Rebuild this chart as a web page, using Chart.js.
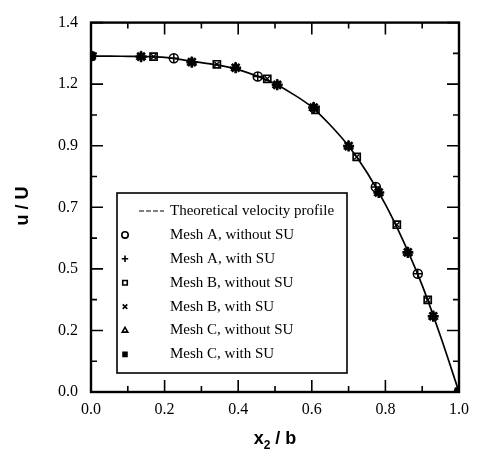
<!DOCTYPE html>
<html>
<head>
<meta charset="utf-8">
<script src="https://cdn.jsdelivr.net/npm/chart.js@4.4.0/dist/chart.umd.min.js"></script>
<style>
  html, body { margin: 0; padding: 0; background: #fff; }
  #wrap { width: 477px; height: 451px; }
</style>
</head>
<body>
<div id="wrap"><canvas id="profile"></canvas></div>
<script>
// theoretical velocity profile u/U across the channel
const theoryX = [0, 0.05, 0.1, 0.15, 0.2, 0.25, 0.3, 0.35, 0.4, 0.45, 0.5, 0.55, 0.6, 0.65, 0.7, 0.75, 0.8, 0.85, 0.9, 0.95, 1.0];
const theoryY = [1.273, 1.273, 1.272, 1.271, 1.268, 1.259, 1.248, 1.238, 1.222, 1.198, 1.168, 1.128, 1.080, 1.012, 0.932, 0.832, 0.711, 0.568, 0.404, 0.210, 0.0];

// computed nodal values, one pair of arrays per mesh
const meshAX = [0, 0.225, 0.453, 0.774, 0.888, 1.0];
const meshAY = [1.273, 1.265, 1.196, 0.777, 0.448, 0.0];
const meshBX = [0, 0.170, 0.342, 0.479, 0.610, 0.722, 0.831, 0.915, 1.0];
const meshBY = [1.273, 1.271, 1.242, 1.187, 1.069, 0.891, 0.634, 0.349, 0.0];
const meshCX = [0, 0.136, 0.274, 0.393, 0.506, 0.605, 0.700, 0.782, 0.861, 0.930, 1.0];
const meshCY = [1.273, 1.271, 1.250, 1.229, 1.164, 1.078, 0.932, 0.756, 0.529, 0.287, 0.0];

const xTickLabels = ['0.0', '0.2', '0.4', '0.6', '0.8', '1.0'];
const yTickValues = [0, 0.2333, 0.4667, 0.7, 0.9333, 1.1667, 1.4];
const yTickLabels = ['0.0', '0.2', '0.5', '0.7', '0.9', '1.2', '1.4'];

const serif = '"Liberation Serif", "DejaVu Serif", serif';
const sans = '"Liberation Sans", Arial, sans-serif';
const pts = (xs, ys) => xs.map((v, i) => ({ x: v, y: ys[i] }));

function meshSet(label, xs, ys, style, radius, width) {
  return {
    label: label,
    data: pts(xs, ys),
    showLine: false,
    pointStyle: style,
    pointRadius: radius,
    pointBorderWidth: width,
    pointBorderColor: '#000',
    pointBackgroundColor: 'rgba(0,0,0,0)',
    clip: 0
  };
}

// inward ticks on all four sides, frame, legend box and axis titles
const framePlugin = {
  id: 'framePlugin',
  afterDraw(chart) {
    const { ctx, chartArea: a, scales: { x, y } } = chart;
    ctx.save();
    ctx.strokeStyle = '#000';
    ctx.fillStyle = '#000';

    const xs = x.ticks.map(t => t.value);
    const ys = y.ticks.map(t => t.value);
    const mid = arr => arr.slice(1).map((v, i) => (v + arr[i]) / 2);

    ctx.lineWidth = 1.6;
    ctx.beginPath();
    const tickX = (vals, len) => vals.forEach(v => {
      const p = x.getPixelForValue(v);
      ctx.moveTo(p, a.bottom); ctx.lineTo(p, a.bottom - len);
      ctx.moveTo(p, a.top); ctx.lineTo(p, a.top + len);
    });
    const tickY = (vals, len) => vals.forEach(v => {
      const p = y.getPixelForValue(v);
      ctx.moveTo(a.left, p); ctx.lineTo(a.left + len, p);
      ctx.moveTo(a.right, p); ctx.lineTo(a.right - len, p);
    });
    tickX(xs, 12); tickX(mid(xs), 6);
    tickY(ys, 12); tickY(mid(ys), 6);
    ctx.stroke();

    ctx.lineWidth = 2.4;
    ctx.strokeRect(a.left, a.top, a.right - a.left, a.bottom - a.top);

    // legend
    const box = { left: 117, top: 193, right: 347, bottom: 373 };
    ctx.fillStyle = '#fff';
    ctx.fillRect(box.left, box.top, box.right - box.left, box.bottom - box.top);
    ctx.lineWidth = 1.6;
    ctx.strokeRect(box.left, box.top, box.right - box.left, box.bottom - box.top);

    ctx.font = '15px ' + serif;
    ctx.textBaseline = 'middle';
    ctx.textAlign = 'left';
    const rowY = i => 211 + i * 23.9;
    chart.data.datasets.forEach((ds, i) => {
      const yy = rowY(i);
      if (ds.showLine === false) {
        const solid = ds.pointStyle === 'star';
        ctx.fillStyle = solid ? '#000' : '#fff';
        Chart.helpers.drawPoint(ctx, {
          pointStyle: solid ? 'rect' : ds.pointStyle,
          radius: solid ? 2.8 : 3.2,
          borderWidth: 1.3,
          rotation: 0
        }, 125, yy);
      } else {
        ctx.save();
        ctx.lineWidth = 1;
        ctx.setLineDash([5, 2]);
        ctx.beginPath();
        ctx.moveTo(139, yy); ctx.lineTo(164, yy);
        ctx.stroke();
        ctx.restore();
      }
      ctx.fillStyle = '#000';
      ctx.fillText(ds.label, 170, yy);
    });

    // axis titles
    ctx.font = 'bold 18px ' + sans;
    ctx.textAlign = 'center';
    ctx.save();
    ctx.translate(23, 206);
    ctx.rotate(-Math.PI / 2);
    ctx.fillText('u / U', 0, 0);
    ctx.restore();

    const cx = (a.left + a.right) / 2;
    ctx.textAlign = 'left';
    ctx.textBaseline = 'alphabetic';
    const w1 = ctx.measureText('x').width;
    ctx.font = 'bold 12px ' + sans;
    const w2 = ctx.measureText('2').width;
    ctx.font = 'bold 18px ' + sans;
    const w3 = ctx.measureText(' / b').width;
    const left = cx - (w1 + w2 + w3) / 2;
    ctx.fillText('x', left, 444);
    ctx.font = 'bold 12px ' + sans;
    ctx.fillText('2', left + w1, 449);
    ctx.font = 'bold 18px ' + sans;
    ctx.fillText(' / b', left + w1 + w2, 444);
    ctx.restore();
  }
};

new Chart(document.getElementById('profile'), {
  type: 'scatter',
  data: {
    datasets: [
      {
        label: 'Theoretical velocity profile',
        data: pts(theoryX, theoryY),
        showLine: true,
        borderColor: '#000',
        borderWidth: 1.7,
        pointRadius: 0,
        cubicInterpolationMode: 'monotone',
        clip: 0
      },
      meshSet('Mesh A, without SU', meshAX, meshAY, 'circle', 4.5, 1.5),
      meshSet('Mesh A, with SU', meshAX, meshAY, 'cross', 4.5, 1.5),
      meshSet('Mesh B, without SU', meshBX, meshBY, 'rect', 5, 1.7),
      meshSet('Mesh B, with SU', meshBX, meshBY, 'crossRot', 3.5, 1.4),
      meshSet('Mesh C, without SU', meshCX, meshCY, 'triangle', 4.5, 1.8),
      meshSet('Mesh C, with SU', meshCX, meshCY, 'star', 5.5, 2.6)
    ]
  },
  options: {
    responsive: true,
    maintainAspectRatio: false,
    animation: false,
    layout: { padding: { top: 16, right: 9, left: 0, bottom: 0 } },
    plugins: { legend: { display: false }, tooltip: { enabled: false } },
    scales: {
      x: {
        type: 'linear',
        min: 0,
        max: 1,
        grid: { display: false, drawTicks: false },
        border: { display: false },
        ticks: {
          stepSize: 0.2,
          padding: 8,
          color: '#000',
          font: { family: serif, size: 16 },
          callback: (v, i) => xTickLabels[i]
        },
        afterFit: s => { s.height = 59; }
      },
      y: {
        type: 'linear',
        min: 0,
        max: 1.4,
        grid: { display: false, drawTicks: false },
        border: { display: false },
        afterBuildTicks: s => { s.ticks = yTickValues.map(v => ({ value: v })); },
        ticks: {
          padding: 13,
          color: '#000',
          font: { family: serif, size: 16 },
          callback: (v, i) => yTickLabels[i]
        },
        afterFit: s => { s.width = 91; }
      }
    }
  },
  plugins: [framePlugin]
});
</script>
</body>
</html>
